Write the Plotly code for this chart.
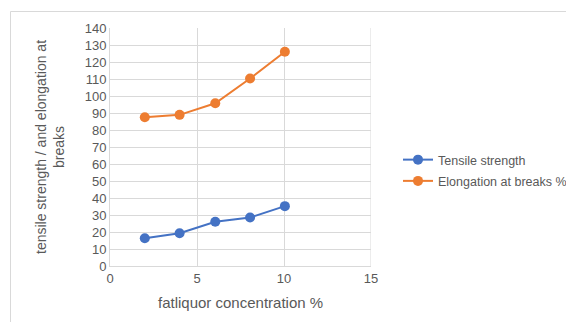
import plotly.graph_objects as go

concentration = [2, 4, 6.05, 8.05, 10.05]
tensile_strength = [16.3, 19.3, 26, 28.5, 35.2]
elongation = [87.5, 88.9, 95.7, 110.3, 126]

x_ticks = [0, 5, 10, 15]
y_ticks = list(range(0, 141, 10))

fig = go.Figure()
fig.add_trace(go.Scatter(x=concentration, y=tensile_strength, mode="lines+markers",
                         name="Tensile strength", legendgroup="a",
                         line=dict(color="#4472C4", width=2),
                         marker=dict(color="#4472C4", size=10)))
fig.add_trace(go.Scatter(x=concentration, y=elongation, mode="lines+markers",
                         name="Elongation at breaks %", legendgroup="b",
                         line=dict(color="#ED7D31", width=2),
                         marker=dict(color="#ED7D31", size=10)))

# the page body has an 8px margin; work in page pixels and convert
OFF = 8
W, H = 566, 314
PL, PR, PT, PB = 110, 371, 28, 266  # plot area in page pixels
L, T = PL - OFF, PT - OFF
R, B = W - (PR - OFF), H - (PB - OFF)
pw, ph = W - L - R, H - T - B

def px(x):
    return (x - OFF - L) / pw

def py(y):
    return (H - B - (y - OFF)) / ph

grey = "#595959"
fig.update_layout(
    width=W, height=H,
    margin=dict(l=L, r=R, t=T, b=B, autoexpand=False),
    paper_bgcolor="white", plot_bgcolor="white",
    font=dict(family="Liberation Sans, Arial, sans-serif", color=grey, size=13),
    showlegend=True,
    legend=dict(x=px(398), y=py(145), xanchor="left", yanchor="top",
                font=dict(size=12.5, color=grey),
                itemwidth=30, tracegroupgap=2, bgcolor="rgba(0,0,0,0)"),
    xaxis=dict(range=[0, 15], tickvals=x_ticks, showgrid=True, gridcolor="#D9D9D9",
               gridwidth=1, zeroline=False, showline=True, linecolor="#D9D9D9",
               ticks="", tickfont=dict(size=13, color=grey)),
    yaxis=dict(range=[0, 140], tickvals=y_ticks, showgrid=True, gridcolor="#D9D9D9",
               gridwidth=1, zeroline=False, showline=True, linecolor="#D9D9D9",
               ticks="", tickfont=dict(size=13, color=grey)),
)

fig.add_annotation(text="fatliquor concentration %", xref="paper", yref="paper",
                   x=px(240), y=py(302), xanchor="center", yanchor="middle",
                   showarrow=False, font=dict(size=15, color=grey))
fig.add_annotation(text="tensile strength / and elongation at<br>breaks",
                   xref="paper", yref="paper", textangle=-90,
                   x=px(50), y=py(147), xanchor="center", yanchor="middle",
                   showarrow=False, font=dict(size=14, color=grey))

# right-side plot boundary
fig.add_shape(type="line", xref="x", yref="y", x0=15, x1=15, y0=0, y1=140,
              line=dict(color="#D9D9D9", width=1))
# outer chart border
fig.add_shape(type="rect", xref="paper", yref="paper",
              x0=px(10.5), x1=px(590), y0=py(340), y1=py(11.5),
              line=dict(color="#D9D9D9", width=1), layer="above")

fig.write_html("out.html")
